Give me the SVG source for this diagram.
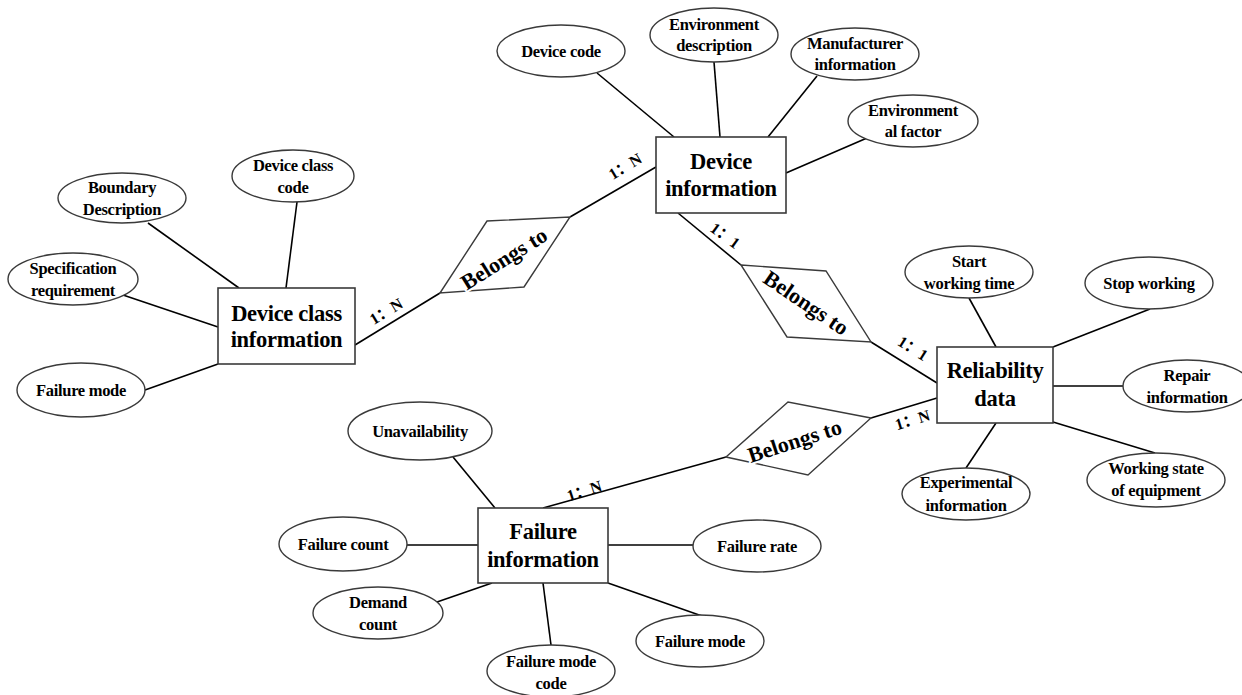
<svg xmlns="http://www.w3.org/2000/svg" width="1242" height="695" viewBox="0 0 1242 695">
<style>
.bg{fill:#fff}
.ent{fill:#fff;stroke:#3a3a3a;stroke-width:1.6}
.att{fill:#fff;stroke:#3a3a3a;stroke-width:1.4}
.rel{fill:#fff;stroke:#3a3a3a;stroke-width:1.4}
.ln{stroke:#000;stroke-width:1.6;fill:none}
.t{font-family:"Liberation Serif","Times New Roman",serif;font-weight:bold;fill:#000;text-anchor:middle}
.ta{font-size:16.5px;letter-spacing:-0.3px}
.te{font-size:22.5px;letter-spacing:-0.3px}
.tr{font-size:22px;paint-order:stroke;stroke:#fff;stroke-width:4px;stroke-linejoin:round}
.tc{font-family:"Liberation Serif","Noto Sans CJK SC",serif;font-weight:bold;font-size:16px;text-anchor:middle;fill:#000}
</style>
<rect class="bg" x="0" y="0" width="1242" height="695"/>

<g id="connectors">
<line class="ln" x1="148" y1="223" x2="239" y2="288"/>
<line class="ln" x1="297" y1="202" x2="286" y2="288"/>
<line class="ln" x1="123" y1="295" x2="218" y2="327"/>
<line class="ln" x1="145" y1="390" x2="218" y2="364"/>
<line class="ln" x1="355" y1="345" x2="440" y2="293"/>
<line class="ln" x1="570" y1="217" x2="656" y2="167"/>
<line class="ln" x1="597" y1="73" x2="674" y2="137"/>
<line class="ln" x1="714" y1="62" x2="720" y2="137"/>
<line class="ln" x1="817" y1="76" x2="768" y2="137"/>
<line class="ln" x1="867" y1="138" x2="786" y2="173"/>
<line class="ln" x1="678" y1="213" x2="741" y2="265"/>
<line class="ln" x1="871" y1="342" x2="937" y2="383"/>
<line class="ln" x1="969" y1="298" x2="996" y2="347"/>
<line class="ln" x1="1150" y1="309" x2="1053" y2="347"/>
<line class="ln" x1="1053" y1="386" x2="1123" y2="386"/>
<line class="ln" x1="1053" y1="422" x2="1155" y2="453"/>
<line class="ln" x1="996" y1="423" x2="966" y2="468"/>
<line class="ln" x1="937" y1="398" x2="871" y2="418"/>
<line class="ln" x1="726" y1="457" x2="543" y2="508"/>
<line class="ln" x1="453" y1="457" x2="495" y2="508"/>
<line class="ln" x1="407" y1="545" x2="478" y2="545"/>
<line class="ln" x1="437" y1="602" x2="492" y2="583"/>
<line class="ln" x1="543" y1="583" x2="551" y2="645"/>
<line class="ln" x1="608" y1="545" x2="693" y2="545"/>
<line class="ln" x1="608" y1="583" x2="702" y2="616"/>
<text class="tc" transform="translate(389,316) rotate(-31)">1：N</text>
<text class="tc" transform="translate(628,171) rotate(-31)">1：N</text>
<text class="tc" transform="translate(722,240) rotate(36)">1：1</text>
<text class="tc" transform="translate(910,353) rotate(32)">1：1</text>
<text class="tc" transform="translate(914,425) rotate(-17)">1：N</text>
<text class="tc" transform="translate(586,496) rotate(-18)">1：N</text>
</g>

<g id="rel1">
<polygon class="rel" points="440,293 487,221 570,217 524,287"/>
<text class="t tr" transform="translate(508,265) rotate(-32)">Belongs to</text>
</g>
<g id="rel2">
<polygon class="rel" points="741,265 826,271 871,342 787,337"/>
<text class="t tr" transform="translate(802,309) rotate(34)">Belongs to</text>
</g>
<g id="rel3">
<polygon class="rel" points="726,457 788,402 871,418 808,475"/>
<text class="t tr" transform="translate(797,448) rotate(-18)">Belongs to</text>
</g>

<g id="device-class-information">
<rect class="ent" x="218" y="288" width="137" height="76"/>
<text class="t te" x="286.5" y="321">Device class</text>
<text class="t te" x="286.5" y="347">information</text>
</g>
<g id="device-information">
<rect class="ent" x="656" y="137" width="130" height="76"/>
<text class="t te" x="721" y="169">Device</text>
<text class="t te" x="721" y="196">information</text>
</g>
<g id="reliability-data">
<rect class="ent" x="937" y="347" width="116" height="76"/>
<text class="t te" x="995" y="378">Reliability</text>
<text class="t te" x="995" y="406">data</text>
</g>
<g id="failure-information">
<rect class="ent" x="478" y="508" width="130" height="75"/>
<text class="t te" x="543" y="539">Failure</text>
<text class="t te" x="543" y="567">information</text>
</g>

<g id="boundary-description">
<ellipse class="att" cx="122" cy="198" rx="64" ry="25"/>
<text class="t ta" x="122" y="193">Boundary</text>
<text class="t ta" x="122" y="215">Description</text>
</g>
<g id="device-class-code">
<ellipse class="att" cx="293" cy="176" rx="61" ry="26"/>
<text class="t ta" x="293" y="171">Device class</text>
<text class="t ta" x="293" y="193">code</text>
</g>
<g id="specification-requirement">
<ellipse class="att" cx="73" cy="279" rx="65" ry="26"/>
<text class="t ta" x="73" y="274">Specification</text>
<text class="t ta" x="73" y="296">requirement</text>
</g>
<g id="failure-mode-1">
<ellipse class="att" cx="81" cy="390" rx="64" ry="27"/>
<text class="t ta" x="81" y="396">Failure mode</text>
</g>
<g id="device-code">
<ellipse class="att" cx="561" cy="51" rx="64" ry="26"/>
<text class="t ta" x="561" y="57">Device code</text>
</g>
<g id="environment-description">
<ellipse class="att" cx="714" cy="35" rx="64" ry="27"/>
<text class="t ta" x="714" y="30">Environment</text>
<text class="t ta" x="714" y="51">description</text>
</g>
<g id="manufacturer-information">
<ellipse class="att" cx="855" cy="54" rx="64" ry="26"/>
<text class="t ta" x="855" y="49">Manufacturer</text>
<text class="t ta" x="855" y="70">information</text>
</g>
<g id="environmental-factor">
<ellipse class="att" cx="913" cy="121" rx="65" ry="26"/>
<text class="t ta" x="913" y="116">Environment</text>
<text class="t ta" x="913" y="137">al factor</text>
</g>
<g id="start-working-time">
<ellipse class="att" cx="969" cy="272" rx="64" ry="26"/>
<text class="t ta" x="969" y="267">Start</text>
<text class="t ta" x="969" y="289">working time</text>
</g>
<g id="stop-working">
<ellipse class="att" cx="1149" cy="283" rx="64" ry="26"/>
<text class="t ta" x="1149" y="289">Stop working</text>
</g>
<g id="repair-information">
<ellipse class="att" cx="1187" cy="386" rx="64" ry="26"/>
<text class="t ta" x="1187" y="381">Repair</text>
<text class="t ta" x="1187" y="403">information</text>
</g>
<g id="working-state">
<ellipse class="att" cx="1156" cy="480" rx="69" ry="27"/>
<text class="t ta" x="1156" y="474">Working state</text>
<text class="t ta" x="1156" y="496">of equipment</text>
</g>
<g id="experimental-information">
<ellipse class="att" cx="966" cy="494" rx="64" ry="26"/>
<text class="t ta" x="966" y="488">Experimental</text>
<text class="t ta" x="966" y="511">information</text>
</g>
<g id="unavailability">
<ellipse class="att" cx="420" cy="431" rx="72" ry="29"/>
<text class="t ta" x="420" y="437">Unavailability</text>
</g>
<g id="failure-count">
<ellipse class="att" cx="343" cy="544" rx="64" ry="27"/>
<text class="t ta" x="343" y="550">Failure count</text>
</g>
<g id="demand-count">
<ellipse class="att" cx="378" cy="613" rx="65" ry="26"/>
<text class="t ta" x="378" y="608">Demand</text>
<text class="t ta" x="378" y="630">count</text>
</g>
<g id="failure-mode-code">
<ellipse class="att" cx="551" cy="671" rx="64" ry="26"/>
<text class="t ta" x="551" y="667">Failure mode</text>
<text class="t ta" x="551" y="689">code</text>
</g>
<g id="failure-rate">
<ellipse class="att" cx="757" cy="546" rx="64" ry="26"/>
<text class="t ta" x="757" y="552">Failure rate</text>
</g>
<g id="failure-mode-2">
<ellipse class="att" cx="700" cy="641" rx="64" ry="26"/>
<text class="t ta" x="700" y="647">Failure mode</text>
</g>
</svg>
